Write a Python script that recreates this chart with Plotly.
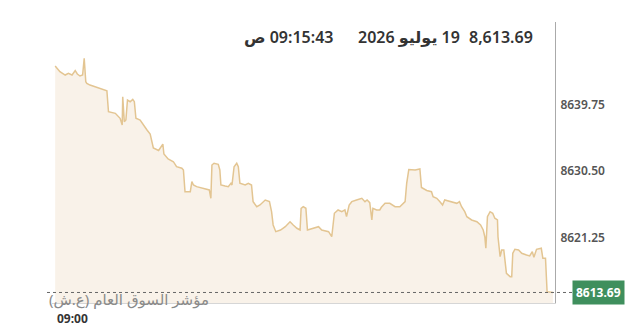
import pandas as pd
import plotly.graph_objects as go

# seconds after 09:00:00
seconds = [0, 9, 19, 25, 32, 38, 42, 47, 52, 55, 58, 60, 66, 82, 91, 98, 101, 114, 123, 127,
           128, 131, 134, 137, 142, 147, 150, 153, 161, 167, 174, 180, 186, 196, 201, 204, 206, 214, 224, 230,
           240, 243, 246, 256, 259, 262, 268, 281, 292, 295, 297, 301, 309, 312, 314, 322, 328, 333, 335, 339,
           344, 347, 350, 360, 366, 372, 375, 382, 388, 398, 406, 410, 413, 418, 427, 436, 445, 451, 458, 464,
           466, 470, 475, 478, 489, 499, 505, 518, 524, 529, 536, 543, 549, 552, 557, 562, 571, 581, 587, 591,
           596, 600, 602, 609, 615, 618, 625, 634, 644, 653, 663, 666, 670, 682, 691, 694, 704, 713, 716, 723,
           729, 734, 738, 751, 761, 766, 770, 776, 780, 789, 799, 806, 811, 814, 816, 819, 824, 829, 833, 838,
           839, 843, 846, 850, 855, 862, 865, 867, 871, 878, 884, 893, 899, 904, 907, 912, 921, 924, 929, 932,
           943]
values = [8645.09, 8644.30, 8643.84, 8644.08, 8643.84, 8644.44, 8643.98, 8643.70, 8643.84, 8646.15,
          8642.91, 8642.69, 8642.45, 8642.08, 8641.86, 8641.66, 8638.75, 8638.53, 8637.84, 8636.91,
          8640.83, 8637.37, 8637.60, 8640.37, 8640.14, 8640.47, 8640.14, 8637.84, 8637.60, 8636.91,
          8636.22, 8635.66, 8633.72, 8633.37, 8634.00, 8634.27, 8632.89, 8632.20, 8631.82, 8631.13,
          8630.91, 8630.67, 8627.66, 8627.66, 8629.05, 8628.59, 8628.36, 8628.13, 8627.90, 8626.75,
          8631.36, 8631.60, 8631.46, 8630.67, 8628.59, 8628.45, 8628.36, 8628.83, 8628.59, 8631.13,
          8631.60, 8631.13, 8628.83, 8628.59, 8628.83, 8628.59, 8626.28, 8625.58, 8625.82, 8626.51,
          8626.28, 8624.89, 8623.05, 8622.12, 8622.35, 8622.81, 8623.50, 8623.05, 8622.59, 8622.35,
          8625.36, 8625.58, 8625.36, 8622.35, 8622.59, 8622.81, 8622.35, 8622.12, 8621.42, 8624.67,
          8625.13, 8624.89, 8625.13, 8624.20, 8625.82, 8626.28, 8626.51, 8626.75, 8626.28, 8626.51,
          8626.14, 8623.74, 8625.36, 8625.13, 8625.13, 8625.50, 8626.05, 8626.05, 8625.58, 8625.58,
          8626.28, 8628.83, 8630.74, 8630.67, 8630.81, 8628.25, 8627.83, 8627.66, 8626.97, 8626.75,
          8626.28, 8625.82, 8626.51, 8626.28, 8626.05, 8626.28, 8625.58, 8624.89, 8624.20, 8623.74,
          8623.50, 8623.05, 8622.35, 8621.42, 8619.82, 8624.20, 8624.89, 8624.67, 8623.98, 8623.74,
          8621.42, 8618.65, 8619.58, 8619.58, 8616.35, 8615.88, 8615.88, 8619.12, 8619.68, 8619.58,
          8619.12, 8618.89, 8618.75, 8619.35, 8618.57, 8619.68, 8619.82, 8618.43, 8618.43, 8613.80,
          8613.69]

tick_values = [8639.75, 8630.50, 8621.25]
last_value = 8613.69
index_name = "مؤشر السوق العام (ع.ش)"
header_value = "8,613.69"
header_date = "2026 يوليو\u200e 19"
header_time = "ص\u200e 09:15:43"
start_label = "09:00"

base = pd.Timestamp("2026-07-19 09:00:00")
times = [base + pd.Timedelta(seconds=s) for s in seconds]

LINE = "#e3c592"
FILL = "rgba(240, 220, 198, 0.38)"
FONT = "Noto Sans, DejaVu Sans, sans-serif"

fig = go.Figure()
fig.add_trace(go.Scatter(
    x=times, y=values, mode="lines",
    line=dict(color=LINE, width=1.5),
    fill="tozeroy", fillcolor=FILL,
    hoverinfo="skip", showlegend=False,
))

PL, PR = 52, 555
W = PR - PL

def px(x):
    return (x - PL) / W

fig.update_layout(
    width=640, height=330,
    margin=dict(l=PL, r=640 - PR, t=22, b=27),
    paper_bgcolor="white", plot_bgcolor="white",
    font=dict(family=FONT, color="#333"),
    xaxis=dict(
        range=[base - pd.Timedelta(seconds=6), base + pd.Timedelta(seconds=947)],
        showgrid=False, zeroline=False, showticklabels=False, ticks="",
        showline=True, linecolor="#d6d6d6", linewidth=1,
    ),
    yaxis=dict(
        range=[8612.23, 8651.19], side="right",
        tickvals=tick_values, tickformat=".2f",
        tickfont=dict(size=12, color="#555", weight=600),
        ticks="", ticklabelstandoff=2,
        showgrid=False, zeroline=False,
        showline=True, linecolor="#aaaaaa", linewidth=1,
    ),
)

# dotted last-value line
fig.add_shape(type="line", xref="paper", yref="y",
              x0=px(47), x1=px(572), y0=last_value, y1=last_value,
              line=dict(color="#666", width=1, dash="dot"))

# last value badge
fig.add_annotation(xref="paper", yref="y", x=px(598), y=last_value,
                   text="<b>%.2f</b>" % last_value, showarrow=False,
                   font=dict(size=12, color="white", family=FONT),
                   bgcolor="#3f8f5d", borderpad=3, xanchor="center", yanchor="middle")

# header
hy = (303 - 37) / 281
for txt, right in [(header_value, 535), (header_date, 462), (header_time, 335)]:
    fig.add_annotation(xref="paper", yref="paper", x=px(right), y=hy, text=txt,
                       showarrow=False, xanchor="right", yanchor="middle",
                       font=dict(size=16, color="#333", family=FONT, weight=600))

# index name
fig.add_annotation(xref="paper", yref="paper", x=px(47), y=(303 - 299) / 281,
                   text=index_name, showarrow=False, xanchor="left", yanchor="middle",
                   font=dict(size=15, color="#8a8a8a", family=FONT))

# start time label
fig.add_annotation(xref="x", yref="paper", x=times[0], y=-(318 - 303) / 281,
                   text="<b>%s</b>" % start_label, showarrow=False, xanchor="left", yanchor="middle",
                   font=dict(size=12, color="#333", family=FONT))

fig.write_html("out.html")
